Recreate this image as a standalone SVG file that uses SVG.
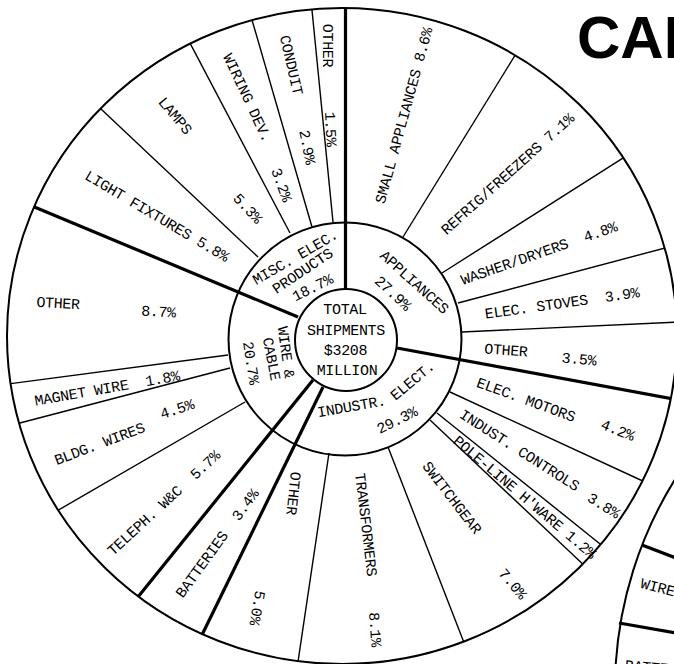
<svg xmlns="http://www.w3.org/2000/svg" width="674" height="664" viewBox="0 0 674 664">
<style>
.ring{fill:none;stroke:#000;stroke-width:2}
.thin{stroke:#000;stroke-width:1.4;fill:none}
.thick{stroke:#000;stroke-width:3.2;fill:none}
text{font-family:"Liberation Mono","DejaVu Sans Mono",monospace;font-size:15px;letter-spacing:-0.35px;fill:#000;text-anchor:middle}
.title{font-family:"Liberation Sans",Arial,sans-serif;font-size:60px;font-weight:bold;letter-spacing:0;text-anchor:start}
.st{text-anchor:start}
</style>
<defs>
<clipPath id="outerClip"><ellipse cx="342" cy="336" rx="335" ry="328"/></clipPath>
</defs>
<rect width="674" height="664" fill="#fff"/>

<g id="title"><text class="title" x="577" y="58">CAN</text></g>

<g id="rings">
<ellipse class="ring" cx="342" cy="336" rx="335" ry="328"/>
<circle class="ring" cx="345" cy="339" r="116.5"/>
<circle class="ring" cx="346" cy="340" r="51"/>
</g>

<g id="connectors" clip-path="url(#outerClip)">
<line class="thick" x1="345.5" y1="289" x2="345.5" y2="0"/>
<line class="thick" x1="298" y1="317" x2="26" y2="203.4"/>
<line class="thick" x1="313" y1="380" x2="130.5" y2="606.3"/>
<line class="thick" x1="323" y1="387" x2="196.7" y2="645.8"/>
<line class="thick" x1="397" y1="348" x2="690" y2="402"/>
<line class="thin" x1="258" y1="257" x2="93.3" y2="101.8"/>
<line class="thin" x1="290" y1="233" x2="185.4" y2="34.4"/>
<line class="thin" x1="312" y1="227" x2="248.7" y2="8.5"/>
<line class="thin" x1="333" y1="222" x2="310.8" y2="-2"/>
<line class="thin" x1="403" y1="237" x2="520.3" y2="46.8"/>
<line class="thin" x1="442" y1="273" x2="633.1" y2="151.6"/>
<line class="thin" x1="458" y1="303" x2="676.6" y2="244.9"/>
<line class="thin" x1="462" y1="332" x2="690" y2="321.5"/>
<line class="thin" x1="450" y1="392" x2="657.9" y2="488"/>
<line class="thin" x1="437" y1="413" x2="614.4" y2="555.5"/>
<line class="thin" x1="430" y1="420" x2="595.7" y2="576.2"/>
<line class="thin" x1="388" y1="447" x2="469.3" y2="656.2"/>
<line class="thin" x1="329" y1="453" x2="296.2" y2="673.9"/>
<line class="thin" x1="245" y1="402" x2="51.6" y2="514"/>
<line class="thin" x1="230" y1="368" x2="8.4" y2="426"/>
<line class="thin" x1="228" y1="355" x2="3.1" y2="384.6"/>
</g>

<g id="chart2">
<path class="ring" d="M 681 470 A 399 399 0 0 0 615 680"/>
<line class="thick" x1="642" y1="545" x2="676" y2="558"/>
<line class="thick" x1="619" y1="623" x2="676" y2="633"/>
<text class="st" x="641" y="583" dy="5" transform="rotate(14 641 583)">WIRE</text>
<text class="st" x="625" y="665" dy="5" transform="rotate(5 625 665)">BATTE</text>
</g>

<g id="total">
<text x="345" y="309" dy="5">TOTAL</text>
<text x="346" y="330" dy="5">SHIPMENTS</text>
<text x="345.5" y="350" dy="5">$3208</text>
<text x="347" y="370" dy="5">MILLION</text>
</g>

<g id="misc-elec">
<text x="295" y="257" dy="5" transform="rotate(-30 295 257)">MISC. ELEC.</text>
<text x="302.5" y="270.8" dy="5" transform="rotate(-34 302.5 270.8)">PRODUCTS</text>
<text x="312.5" y="287.5" dy="5" transform="rotate(-26 312.5 287.5)">18.7%</text>
</g>
<g id="appliances">
<text x="414.5" y="282" dy="5" transform="rotate(42 414.5 282)">APPLIANCES</text>
<text x="393" y="293" dy="5" transform="rotate(43 393 293)">27.9%</text>
</g>
<g id="industr-elect">
<text x="351.4" y="406.4" dy="5" transform="rotate(-10 351.4 406.4)">INDUSTR.</text>
<text x="412.3" y="380.6" dy="5" transform="rotate(-40 412.3 380.6)">ELECT.</text>
<text x="397" y="420" dy="5" transform="rotate(-26 397 420)">29.3%</text>
</g>
<g id="wire-cable">
<text x="286.2" y="352.3" dy="5" transform="rotate(82 286.2 352.3)">WIRE &amp;</text>
<text x="271.7" y="358.7" dy="5" transform="rotate(79 271.7 358.7)">CABLE</text>
<text x="251.2" y="362.8" dy="5" transform="rotate(81 251.2 362.8)">20.7%</text>
</g>

<g id="wc-other">
<text x="58" y="303" dy="5" transform="rotate(3 58 303)">OTHER</text>
<text x="158.5" y="311.5" dy="5" transform="rotate(3 158.5 311.5)">8.7%</text>
</g>
<g id="light-fixtures"><text x="157" y="216" dy="5" transform="rotate(30.6 157 216)">LIGHT FIXTURES 5.8%</text></g>
<g id="lamps">
<text x="175.3" y="115.5" dy="5" transform="rotate(50 175.3 115.5)">LAMPS</text>
<text x="247.8" y="208.3" dy="5" transform="rotate(47 247.8 208.3)">5.3%</text>
</g>
<g id="wiring-dev">
<text x="247.5" y="97.5" dy="5" transform="rotate(65 247.5 97.5)">WIRING DEV.</text>
<text x="281.7" y="184.7" dy="5" transform="rotate(70 281.7 184.7)">3.2%</text>
</g>
<g id="conduit">
<text x="291.5" y="65" dy="5" transform="rotate(77 291.5 65)">CONDUIT</text>
<text x="307.5" y="147" dy="5" transform="rotate(79 307.5 147)">2.9%</text>
</g>
<g id="misc-other">
<text x="328.3" y="45.5" dy="5" transform="rotate(90 328.3 45.5)">OTHER</text>
<text x="330.8" y="129" dy="5" transform="rotate(87 330.8 129)">1.5%</text>
</g>

<g id="small-appliances"><text x="403.7" y="115.5" dy="5" transform="rotate(-74.7 403.7 115.5)">SMALL APPLIANCES 8.6%</text></g>
<g id="refrig"><text x="507.5" y="173.8" dy="5" transform="rotate(-42 507.5 173.8)">REFRIG/FREEZERS 7.1%</text></g>
<g id="washer"><text x="539" y="253" dy="5" transform="rotate(-19.3 539 253)">WASHER/DRYERS&#160;&#160;4.8%</text></g>
<g id="stoves"><text x="562" y="303" dy="5" transform="rotate(-8 562 303)">ELEC. STOVES&#160;&#160;3.9%</text></g>
<g id="app-other">
<text x="506" y="350" dy="5" transform="rotate(4 506 350)">OTHER</text>
<text x="579" y="359" dy="5" transform="rotate(5 579 359)">3.5%</text>
</g>

<g id="elec-motors">
<text x="526" y="399.5" dy="5" transform="rotate(20 526 399.5)">ELEC. MOTORS</text>
<text x="617.8" y="430" dy="5" transform="rotate(22 617.8 430)">4.2%</text>
</g>
<g id="indust-controls">
<text x="519.5" y="450" dy="5" transform="rotate(32.5 519.5 450)">INDUST. CONTROLS</text>
<text x="603.7" y="505.5" dy="5" transform="rotate(32 603.7 505.5)">3.8%</text>
</g>
<g id="pole-line"><text x="524.8" y="497" dy="5" transform="rotate(40.2 524.8 497)">POLE-LINE H'WARE 1.2%</text></g>
<g id="switchgear">
<text x="452" y="497.5" dy="5" transform="rotate(52.4 452 497.5)">SWITCHGEAR</text>
<text x="512.8" y="583.7" dy="5" transform="rotate(50 512.8 583.7)">7.0%</text>
</g>
<g id="transformers">
<text x="366.2" y="524.5" dy="5" transform="rotate(83.2 366.2 524.5)">TRANSFORMERS</text>
<text x="375.3" y="629.5" dy="5" transform="rotate(86 375.3 629.5)">8.1%</text>
</g>
<g id="ind-other">
<text x="293.7" y="493.3" dy="5" transform="rotate(96 293.7 493.3)">OTHER</text>
<text x="257.5" y="608" dy="5" transform="rotate(100 257.5 608)">5.0%</text>
</g>

<g id="magnet-wire"><text x="107" y="388" dy="5" transform="rotate(-10 107 388)">MAGNET WIRE&#160;&#160;1.8%</text></g>
<g id="bldg-wires">
<text x="99.5" y="443.7" dy="5" transform="rotate(-20.7 99.5 443.7)">BLDG. WIRES</text>
<text x="177" y="409" dy="5" transform="rotate(-18 177 409)">4.5%</text>
</g>
<g id="teleph"><text x="163.7" y="502.8" dy="5" transform="rotate(-42.6 163.7 502.8)">TELEPH. W&amp;C&#160;&#160;5.7%</text></g>
<g id="batteries"><text x="217" y="543.3" dy="5" transform="rotate(-53.9 217 543.3)">BATTERIES&#160;&#160;3.4%</text></g>
</svg>
